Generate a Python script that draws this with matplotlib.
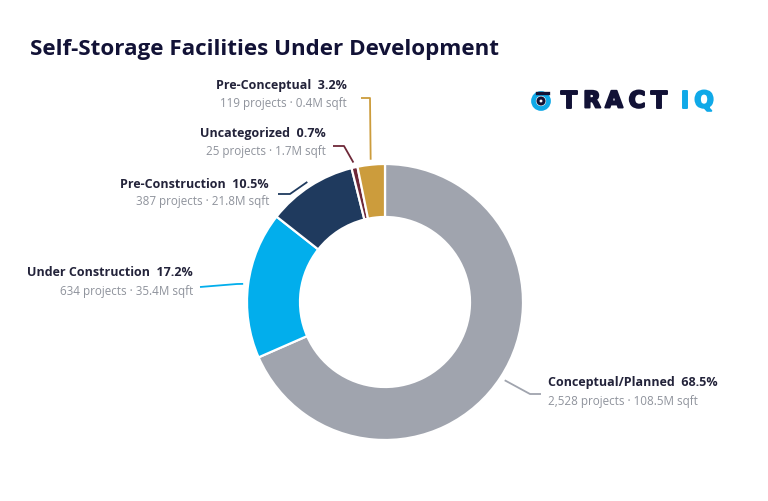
import matplotlib.pyplot as plt
import matplotlib.patches as mpatches
import matplotlib.patheffects as pe
import numpy as np

# data
stages = ['Conceptual/Planned', 'Under Construction', 'Pre-Construction', 'Uncategorized', 'Pre-Conceptual']
shares = [68.5, 17.2, 10.5, 0.7, 3.2]
projects = ['2,528', '634', '387', '25', '119']
sqft = ['108.5M', '35.4M', '21.8M', '1.7M', '0.4M']
colors = ['#A0A4AE', '#02AEEC', '#1F3A5E', '#6E2838', '#CC9C3C']

W, H = 768, 502
fig = plt.figure(figsize=(W / 100, H / 100), dpi=100)
ax = fig.add_axes([0, 0, 1, 1])

def Y(py):
    # pixel row -> data y
    return H - py

cx, cy, R = 385, 303, 138
wedges, _ = ax.pie(shares, colors=colors, startangle=90, counterclock=False,
                   center=(cx, Y(cy)), radius=R,
                   wedgeprops=dict(width=53, edgecolor='white', linewidth=1.6))
ax.set_xlim(0, W)
ax.set_ylim(0, H)
ax.set_aspect('equal')
ax.axis('off')

fam = ['Open Sans', 'DejaVu Sans']
dark = '#23233a'
grey = '#8f939c'

ax.text(30, Y(50), 'Self-Storage Facilities Under Development', fontsize=16.1,
        fontweight='bold', color='#121236', family=fam, va='center', ha='left')

# label layout: (text x, line1 y, line2 y, ha, leader pts (elbow, end))
layout = [
    (548, 383, 402, 'left', [(530, 395), (541, 395)]),
    (193, 273, 292, 'right', [(237, 285), (200, 288)]),
    (269, 184, 202, 'right', [(290, 195), (278, 195)]),
    (326, 134, 152, 'right', [(344, 147), (333, 147)]),
    (347, 85, 103, 'right', [(370, 99), (361, 99)]),
]

for w, name, s, p, q, col, (tx, y1, y2, ha, pts) in zip(
        wedges, stages, shares, projects, sqft, colors, layout):
    ang = np.deg2rad((w.theta1 + w.theta2) / 2)
    r0 = R + 5
    x0, y0 = cx + r0 * np.cos(ang), Y(cy) + r0 * np.sin(ang)
    xs = [x0] + [px for px, _ in pts]
    ys = [y0] + [Y(py) for _, py in pts]
    ax.plot(xs, ys, color=col, lw=1.3, solid_capstyle='butt')
    ax.text(tx, Y(y1), f'{name}  {s}%', fontsize=9.0, fontweight='bold',
            color=dark, family=fam, ha=ha, va='center')
    ax.text(tx, Y(y2), f'{p} projects · {q} sqft', fontsize=8.4,
            color=grey, family=fam, ha=ha, va='center')

# logo
navy = '#121236'
blue = '#10A9E8'
ax.add_patch(mpatches.Circle((541, Y(102)), 7.5, fill=False, ec=blue, lw=3.4))
ax.add_patch(mpatches.Circle((541, Y(102)), 3.0, fill=False, ec=navy, lw=2.2))
ax.plot([537, 548], [Y(94), Y(94)], color=navy, lw=2.4)
letters = ['T', 'R', 'A', 'C', 'T', 'I', 'Q']
lx = [569, 592, 614, 637, 659, 685, 704]
lc = [navy] * 5 + [blue] * 2
for ch, x, c in zip(letters, lx, lc):
    ax.text(x, Y(102), ch, fontsize=16.5, fontweight='bold', family='DejaVu Sans',
            color=c, ha='center', va='center',
            path_effects=[pe.withStroke(linewidth=1.4, foreground=c)])

fig.savefig('out.png', dpi=100, facecolor='white')
